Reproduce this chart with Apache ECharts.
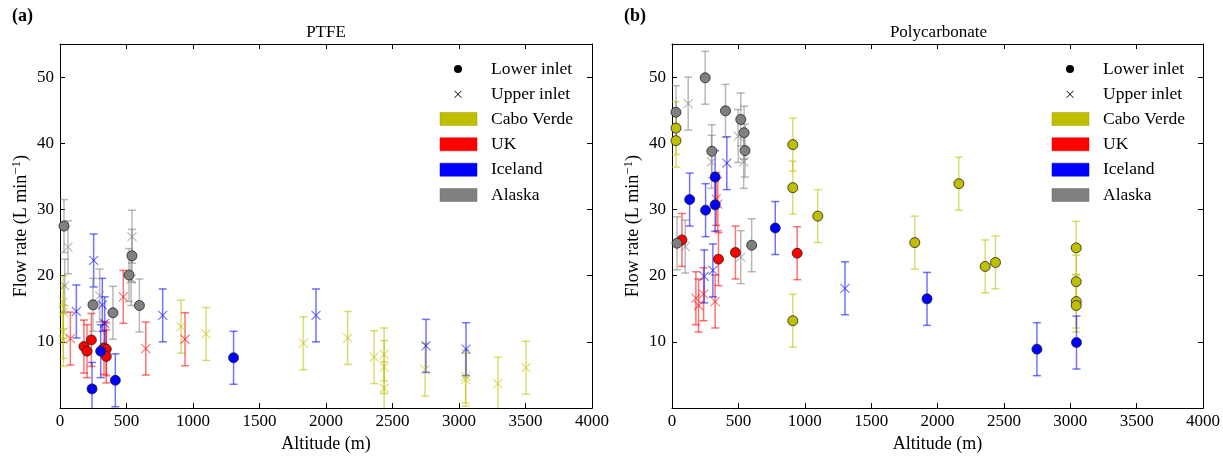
<!DOCTYPE html>
<html>
<head>
<meta charset="utf-8">
<script src="https://cdn.jsdelivr.net/npm/echarts@6/dist/echarts.min.js"></script>
<style>html,body{margin:0;padding:0;background:#fff}#chart{width:1223px;height:458px}</style>
</head>
<body>
<div id="chart"></div>
<script>
// ---- data: [altitude (m), flow rate (L/min), error] ----
// PTFE panel (a)
const ptfeLowerCaboVerde = [];
const ptfeLowerUK = [[180,9.3,4],[203,8.6,4],[236,10.3,4],[331,9.1,4],[348,8.9,4],[348,7.8,4]];
const ptfeLowerIceland = [[241,2.9,4],[306,8.6,4],[416,4.2,4],[1305,7.6,4]];
const ptfeLowerAlaska = [[30,27.5,4],[248,15.6,4],[398,14.4,4],[519,20.1,4],[541,23.0,4],[597,15.5,4]];
const ptfeUpperCaboVerde = [[25,16.0,4],[25,14.5,4],[25,11.5,4],[25,10.3,4],[910,12.3,4],[1098,11.2,4],[1830,9.8,4],[2163,10.6,4],[2362,7.7,4],[2437,8.1,4],[2437,6.2,4],[2437,3.0,4],[2745,5.8,4],[3050,4.8,4],[3050,4.3,4],[3292,3.7,4],[3504,6.1,4]];
const ptfeUpperUK = [[78,10.5,4],[476,16.8,4],[645,9.0,4],[940,10.4,4]];
const ptfeUpperIceland = [[123,14.6,4],[253,22.3,4],[318,15.6,4],[336,12.8,4],[772,14.0,4],[1925,14.0,4],[2752,9.4,4],[3053,8.9,4]];
const ptfeUpperAlaska = [[60,24.3,4],[35,18.5,4],[298,17.0,4],[541,25.9,4],[535,19.5,4]];
// Polycarbonate panel (b)
const pcLowerCaboVerde = [[30,42.3,4],[30,40.4,4],[910,39.8,4],[910,33.3,4],[910,13.2,4],[1098,29.0,4],[1829,25.0,4],[2161,33.9,4],[2359,21.4,4],[2437,22.0,4],[3045,24.2,4],[3045,19.1,4],[3045,16.1,4],[3045,15.5,4]];
const pcLowerUK = [[75,25.4,4],[350,22.5,4],[478,23.5,4],[943,23.4,4]];
const pcLowerIceland = [[133,31.5,4],[253,29.9,4],[325,30.7,4],[325,34.9,4],[778,27.2,4],[1921,16.5,4],[2749,8.9,4],[3047,9.9,4]];
const pcLowerAlaska = [[30,44.7,4],[38,24.9,4],[250,49.9,4],[300,38.8,4],[403,44.9,4],[518,43.6,4],[543,41.6,4],[550,38.9,4],[600,24.6,4]];
const pcUpperCaboVerde = [];
const pcUpperUK = [[180,16.6,4],[200,15.5,4],[238,17.2,4],[325,16.1,4],[333,31.6,4],[345,30.8,4]];
const pcUpperIceland = [[243,19.9,4],[308,20.8,4],[413,37.0,4],[1303,18.1,4]];
const pcUpperAlaska = [[122,46.0,4],[100,24.4,4],[298,37.2,4],[498,41.1,4],[518,22.8,4],[540,37.2,4]];

const sites = ['Cabo Verde','UK','Iceland','Alaska'];
const inlets = ['Lower inlet','Upper inlet'];
const panelTitles = ['PTFE','Polycarbonate'];
const panelLetters = ['(a)','(b)'];
const xTicks = [0,500,1000,1500,2000,2500,3000,3500,4000];
const yTicks = [10,20,30,40,50];

const siteColors = {'Cabo Verde':[191,191,0],'UK':[255,0,0],'Iceland':[0,0,255],'Alaska':[128,128,128]};
const panels = [
  {lower:[ptfeLowerCaboVerde,ptfeLowerUK,ptfeLowerIceland,ptfeLowerAlaska],
   upper:[ptfeUpperCaboVerde,ptfeUpperUK,ptfeUpperIceland,ptfeUpperAlaska]},
  {lower:[pcLowerCaboVerde,pcLowerUK,pcLowerIceland,pcLowerAlaska],
   upper:[pcUpperCaboVerde,pcUpperUK,pcUpperIceland,pcUpperAlaska]}
];

const FONT = '"Liberation Serif", "DejaVu Serif", serif';
const rgb = (c,a) => a===undefined ? `rgb(${c[0]},${c[1]},${c[2]})` : `rgba(${c[0]},${c[1]},${c[2]},${a})`;
const grids = [{left:60, top:44, width:532, height:370},{left:672, top:44, width:533, height:370}];

function errRender(color){
  return function(params, api){
    const x = api.value(0), y = api.value(1), e = api.value(2);
    const cs = params.coordSys;
    const yMinPix = cs.y + cs.height, yMaxPix = cs.y;
    const t = api.coord([x, y + e]), b = api.coord([x, y - e]);
    const children = [];
    let ty = t[1], by = b[1];
    const topClip = ty < yMaxPix, botClip = by > yMinPix;
    ty = Math.max(ty, yMaxPix); by = Math.min(by, yMinPix);
    const st = {stroke: color, lineWidth: 1.5};
    children.push({type:'line', shape:{x1:t[0], y1:ty, x2:t[0], y2:by}, style:st});
    const hw = 4;
    if(!topClip) children.push({type:'line', shape:{x1:t[0]-hw, y1:ty, x2:t[0]+hw, y2:ty}, style:st});
    if(!botClip) children.push({type:'line', shape:{x1:t[0]-hw, y1:by, x2:t[0]+hw, y2:by}, style:st});
    return {type:'group', children};
  };
}

const series = [];
panels.forEach((p, pi) => {
  const xi = pi*2, yi = pi*2;
  sites.forEach((s, si) => {
    const c = siteColors[s];
    [['lower', p.lower[si]], ['upper', p.upper[si]]].forEach(([kind, arr]) => {
      if(!arr.length) return;
      series.push({
        type:'custom', name: s + ' ' + kind + ' error', xAxisIndex:xi, yAxisIndex:yi,
        renderItem: errRender(rgb(c, 0.55)), data: arr, silent:true, z:2
      });
      if(kind === 'lower'){
        series.push({type:'scatter', name: s + ' lower', xAxisIndex:xi, yAxisIndex:yi,
          data: arr.map(d=>[d[0],d[1]]), symbol:'circle', symbolSize:10,
          itemStyle:{color:rgb(c), borderColor:'#222', borderWidth:0.8, opacity:1}, z:4});
      } else {
        series.push({type:'scatter', name: s + ' upper', xAxisIndex:xi, yAxisIndex:yi,
          data: arr.map(d=>[d[0],d[1]]), symbol:'path://M0,0L10,10M10,0L0,10', symbolSize:9,
          itemStyle:{color:'rgba(0,0,0,0)', borderColor:rgb(c,0.7), borderWidth:1.1}, z:3});
      }
    });
  });
});

const xAxes = [], yAxes = [];
[0,1].forEach(gi => {
  const base = {gridIndex:gi, type:'value', min:xTicks[0], max:xTicks[xTicks.length-1], interval:500,
    axisLine:{show:true, onZero:false, lineStyle:{color:'#000', width:1}},
    axisTick:{show:true, inside:true, length:5, lineStyle:{color:'#000'}},
    splitLine:{show:false}};
  xAxes.push(Object.assign({}, base, {position:'bottom', name:'Altitude (m)', nameLocation:'middle', nameGap:26,
    nameTextStyle:{fontFamily:FONT, fontSize:18, color:'#000'},
    axisLabel:{show:true, margin:5, fontFamily:FONT, fontSize:17, color:'#000',
      formatter: v => xTicks.includes(v) ? String(v) : ''}}));
  xAxes.push(Object.assign({}, base, {position:'top', axisLabel:{show:false}}));
  const ybase = {gridIndex:gi, type:'value', min:0, max:55, interval:10,
    axisLine:{show:true, onZero:false, lineStyle:{color:'#000', width:1}},
    axisTick:{show:true, inside:true, length:5, lineStyle:{color:'#000'}},
    splitLine:{show:false}};
  yAxes.push(Object.assign({}, ybase, {position:'left', name:'Flow rate (L min{sup|−1})', nameLocation:'middle', nameGap:28,
    nameTextStyle:{fontFamily:FONT, fontSize:18, color:'#000',
      rich:{sup:{fontFamily:FONT, fontSize:13, color:'#000', verticalAlign:'top', padding:[0,0,9,0]}}},
    axisLabel:{show:true, margin:6, fontFamily:FONT, fontSize:17, color:'#000',
      formatter: v => yTicks.includes(v) ? String(v) : ''}}));
  yAxes.push(Object.assign({}, ybase, {position:'right', axisLabel:{show:false}}));
});

const graphic = [];
[0,1].forEach(gi => {
  const g = grids[gi];
  graphic.push({type:'text', x: g.left + g.width/2, y: 33, style:{text: panelTitles[gi], font:`17px ${FONT}`, fill:'#000', textAlign:'center', textVerticalAlign:'middle'}});
  graphic.push({type:'text', x: gi===0 ? 12 : 624, y: 16, style:{text: panelLetters[gi], font:`bold 18px ${FONT}`, fill:'#000', textAlign:'left', textVerticalAlign:'middle'}});
  const ox = g.left + 380;
  const rows = [69, 94.3, 119, 144.3, 169.7, 195];
  graphic.push({type:'circle', shape:{cx:ox+18, cy:rows[0], r:4}, style:{fill:'#000'}});
  graphic.push({type:'line', shape:{x1:ox+14.5, y1:rows[1]-3.5, x2:ox+21.5, y2:rows[1]+3.5}, style:{stroke:'#000', lineWidth:1}});
  graphic.push({type:'line', shape:{x1:ox+14.5, y1:rows[1]+3.5, x2:ox+21.5, y2:rows[1]-3.5}, style:{stroke:'#000', lineWidth:1}});
  inlets.forEach((n, i) => graphic.push({type:'text', x: ox+51, y: rows[i], style:{text:n, font:`17.5px ${FONT}`, fill:'#000', textAlign:'left', textVerticalAlign:'middle'}}));
  sites.forEach((s, i) => {
    graphic.push({type:'rect', shape:{x:ox, y:rows[i+2]-6.5, width:37, height:13}, style:{fill:rgb(siteColors[s]), stroke:rgb(siteColors[s].map(v=>Math.round(v*0.85))), lineWidth:0.5}});
    graphic.push({type:'text', x: ox+51, y: rows[i+2], style:{text:s, font:`17.5px ${FONT}`, fill:'#000', textAlign:'left', textVerticalAlign:'middle'}});
  });
});

const chart = echarts.init(document.getElementById('chart'), null, {renderer:'canvas'});
chart.setOption({
  backgroundColor:'#fff',
  animation:false,
  grid: grids,
  xAxis: xAxes,
  yAxis: yAxes,
  series: series,
  graphic: graphic
});
</script>
</body>
</html>
